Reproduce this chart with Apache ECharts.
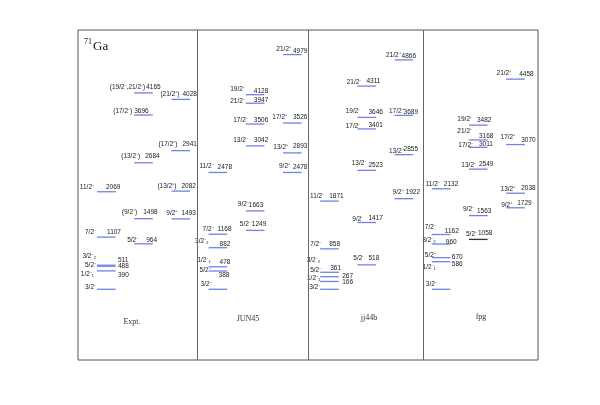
<!DOCTYPE html>
<html>
<head>
<meta charset="utf-8">
<script src="https://cdn.jsdelivr.net/npm/echarts@6/dist/echarts.min.js"></script>
<style>
  html, body { margin: 0; padding: 0; background: #fff; }
  #main { width: 600px; height: 405px; }
</style>
</head>
<body>
<div id="main"></div>
<script>
// panel names
const panels = ["Expt.", "JUN45", "jj44b", "fpg"];

// level energies (keV), spin labels and column (0..2) inside each panel
const exptEnergy = [0, 390, 488, 511, 964, 1107, 1493, 1498, 2069, 2082, 2684, 2941, 3696, 4028, 4165];
const exptSpin = ["3/2⁻", "1/2⁻₁", "5/2⁻", "3/2⁻₂", "5/2⁻", "7/2⁻", "9/2⁺", "(9/2⁻)", "11/2⁻", "(13/2⁺)", "(13/2⁻)", "(17/2⁺)", "(17/2⁻)", "(21/2⁺)", "(19/2⁻,21/2⁻)"];
const exptCol = [0, 0, 0, 0, 1, 0, 2, 1, 0, 2, 1, 2, 1, 2, 1];

const jun45Energy = [0, 388, 478, 882, 1168, 1249, 1663, 2478, 2478, 2893, 3042, 3506, 3526, 3947, 4128, 4979];
const jun45Spin = ["3/2⁻", "5/2⁻", "1/2⁻₁", "3/2⁻₂", "7/2⁻", "5/2⁻", "9/2⁻", "11/2⁻", "9/2⁺", "13/2⁺", "13/2⁻", "17/2⁻", "17/2⁺", "21/2⁻", "19/2⁻", "21/2⁺"];
const jun45Col = [0, 0, 0, 0, 0, 1, 1, 0, 2, 2, 1, 1, 2, 1, 1, 2];

const jj44bEnergy = [0, 166, 267, 361, 518, 858, 1417, 1871, 1922, 2523, 2855, 3401, 3646, 3689, 4311, 4866];
const jj44bSpin = ["3/2⁻", "1/2⁻₁", "5/2⁻", "3/2⁻₂", "5/2⁻", "7/2⁻", "9/2⁻", "11/2⁻", "9/2⁺", "13/2⁻", "13/2⁺", "17/2⁻", "19/2⁻", "17/2⁺", "21/2⁻", "21/2⁺"];
const jj44bCol = [0, 0, 0, 0, 1, 0, 1, 0, 2, 1, 2, 1, 1, 2, 1, 2];

const fpgEnergy = [0, 586, 670, 960, 1058, 1162, 1563, 1729, 2038, 2132, 2549, 3011, 3070, 3168, 3482, 4458];
const fpgSpin = ["3/2⁻", "1/2⁻₁", "5/2⁻", "3/2⁻₂", "5/2⁻", "7/2⁻", "9/2⁻", "9/2⁺", "13/2⁺", "11/2⁻", "13/2⁻", "17/2⁻", "17/2⁺", "21/2⁻", "19/2⁻", "21/2⁺"];
const fpgCol = [0, 0, 0, 0, 1, 0, 1, 2, 2, 0, 1, 1, 2, 1, 1, 2];

// label placement in px, relative to the level line start: [spin right dx, spin dy, energy left dx, energy dy]
const labelLayout = [
  [[-1,-2,0,0],[-3,3,21,4],[-1,-1,21,0],[-1,-9,21,-5],[4,-4,12,-4],[-1,-5,10,-5],[6,-5.4,10,-5.4],[3,-6,9,-6],
   [-3,-5,9,-5],[5,-5,10,-5],[6,-7,11,-7],[6,-6.7,11,-6.7],[-2,-4.3,0,-4.3],[8,-5,11,-5],[11,-6,12,-6]],
  [[3,-5,0,0],[2,-1,10,4],[2,-6.4,11,-4.7],[0,-6.3,11,-4],[5,-5,9,-5.3],[5,-6,6,-6],[3,-6.6,3,-5.3],[5,-5.8,9,-4.8],
   [7,-6,10,-5],[5,-5.5,10,-6.2],[2,-6,8,-6],[2,-4,8,-4],[4,-6.2,10,-5.5],[-1,-2.3,8,-3.3],[-1,-5.7,8,-3],[8,-5,10,-3]],
  [[0,-2.3,0,0],[0,-3.4,22,1.2],[1,-6.4,22,0],[0,-12,10,-4.2],[7,-7,11,-7],[1,-5,9,-5],[6,-3.7,11,-4],[4,-5,9,-4.5],
   [9,-6.4,11,-6.4],[9,-7,11,-4.7],[9,-3,9,-5.7],[3,-3,11,-4],[3,-5.8,11,-4.8],[9,-4.5,9,-3.5],[4,-4,9,-5],[6,-5,7,-4]],
  [[5,-4.7,0,0],[4,5.4,20,3],[4,-2.3,20,-0.6],[4,-3.6,14,-2],[8,-5,9,-6],[4,-7.3,13,-3],[5,-6.7,8,-4.3],[6,-3,11,-4.5],
   [9,-4.3,15,-5],[8,-5,12,-5],[7,-4,10,-5],[4,-2.6,10,-3.3],[9,-7,15,-4.8],[3,-8.4,10,-3.4],[3,-6,8,-5],[5,-6.4,13,-5.4]]
];

// panel dividers on the column scale
const dividers = [2.696, 5.672, 8.782];

const energies = [exptEnergy, jun45Energy, jj44bEnergy, fpgEnergy];
const spins = [exptSpin, jun45Spin, jj44bSpin, fpgSpin];
const cols = [exptCol, jun45Col, jj44bCol, fpgCol];

const levelData = [];
energies.forEach(function (list, p) {
  list.forEach(function (e, i) {
    levelData.push([p * 3 + cols[p][i], e, p, i]);
  });
});

const labelFont = "Liberation Sans, Arial, sans-serif";

function renderLevel(params, api) {
  const p = api.value(2);
  const i = api.value(3);
  const e = api.value(1);
  const a = api.coord([api.value(0), e]);
  const b = api.coord([api.value(0) + 0.5, e]);
  const lay = labelLayout[p][i];
  const dark = p === 3 && e === 1058;
  const children = [
    {
      type: "line",
      shape: { x1: a[0], y1: a[1], x2: b[0], y2: b[1] },
      style: { stroke: dark ? "#333333" : "#6f84e2", lineWidth: 1.3 },
    },
    {
      type: "text",
      x: a[0] + lay[0],
      y: a[1] + lay[1],
      style: {
        text: spins[p][i],
        fontSize: 6.5,
        fontFamily: labelFont,
        fill: "#1a1a1a",
        align: "right",
        verticalAlign: "middle",
      },
    },
  ];
  if (e !== 0) {
    children.push({
      type: "text",
      x: a[0] + lay[2],
      y: a[1] + lay[3],
      style: {
        text: String(e),
        fontSize: 6.5,
        fontFamily: labelFont,
        fill: "#1a1a1a",
        align: "left",
        verticalAlign: "middle",
      },
    });
  }
  return { type: "group", children: children };
}

const titleX = [132, 248, 369, 481];
const titleY = [322, 319, 318, 317];

const chart = echarts.init(document.getElementById("main"));
const option = {
  animation: false,
  grid: {
    left: 78,
    right: 62,
    top: 30,
    bottom: 45,
    show: true,
    borderColor: "#555",
    borderWidth: 1,
    backgroundColor: "#fff",
  },
  xAxis: {
    type: "value",
    min: -0.511,
    max: 11.855,
    show: false,
  },
  yAxis: {
    type: "value",
    min: -1500,
    max: 5500,
    show: false,
  },
  graphic: panels.map(function (name, p) {
    return {
      type: "text",
      x: titleX[p],
      y: titleY[p],
      style: {
        text: name,
        fontSize: 8,
        fontFamily: "Liberation Serif, serif",
        fill: "#333",
        align: "center",
        verticalAlign: "middle",
      },
    };
  }).concat([
    {
      type: "text",
      x: 84,
      y: 42,
      style: { text: "71", fontSize: 8, fontFamily: "Liberation Serif, serif", fill: "#111", verticalAlign: "middle" },
    },
    {
      type: "text",
      x: 93,
      y: 47,
      style: { text: "Ga", fontSize: 13, fontFamily: "Liberation Serif, serif", fill: "#111", verticalAlign: "middle" },
    },
  ]),
  series: [
    {
      type: "custom",
      data: levelData,
      renderItem: renderLevel,
      clip: false,
      silent: true,
      markLine: {
        silent: true,
        symbol: "none",
        label: { show: false },
        lineStyle: { color: "#666", width: 1, type: "solid" },
        data: dividers.map(function (d) {
          return { xAxis: d };
        }),
      },
    },
  ],
};
chart.setOption(option);
</script>
</body>
</html>
